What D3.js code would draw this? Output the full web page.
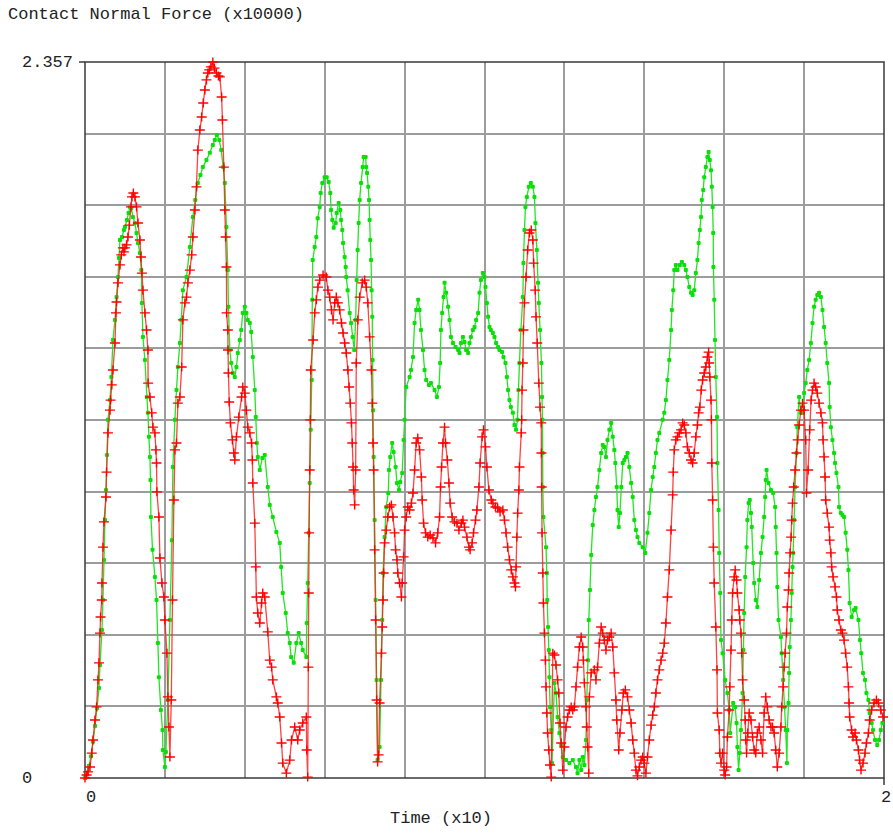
<!DOCTYPE html>
<html>
<head>
<meta charset="utf-8">
<script src="https://cdn.jsdelivr.net/npm/d3@7"></script>
<style>
  body { margin: 0; background: #fff; }
  text { font-family: "Liberation Mono", "DejaVu Sans Mono", monospace; fill: #222; }
</style>
</head>
<body>
<div id="chart"></div>
<script>
// Chart text and axis values
const yTitle = 'Contact Normal Force (x10000)';
const xTitle = 'Time (x10)';
const xDomain = [0, 2];
const yDomain = [0, 2.357];
const xTickLabels = [[0, '0'], [2, '2']];
const yTickLabels = [[0, '0'], [2.357, '2.357']];
const gridSteps = 10;

// [time, force]
const greenPoints = [
  [0,0],[0.005,0.013],[0.010,0.040],[0.015,0.072],[0.020,0.119],[0.025,0.171],[0.030,0.230],[0.035,0.296],[0.0375,0.372],[0.0425,0.487],
  [0.045,0.586],[0.0475,0.718],[0.050,0.849],[0.0525,0.948],[0.055,1.063],[0.0575,1.179],[0.0625,1.244],[0.066,1.320],[0.070,1.442],[0.075,1.508],
  [0.079,1.583],[0.0825,1.649],[0.085,1.712],[0.0875,1.771],[0.0925,1.781],[0.0975,1.804],[0.100,1.814],[0.105,1.837],[0.109,1.860],[0.1125,1.880],
  [0.116,1.876],[0.120,1.847],[0.125,1.827],[0.129,1.794],[0.1325,1.761],[0.1375,1.728],[0.141,1.672],[0.1425,1.564],[0.145,1.452],[0.150,1.376],
  [0.155,1.254],[0.1575,1.202],[0.160,1.123],[0.1625,1.057],[0.164,0.981],[0.165,0.859],[0.169,0.751],[0.175,0.662],[0.179,0.586],[0.1825,0.444],
  [0.185,0.332],[0.190,0.224],[0.194,0.158],[0.195,0.092],[0.200,0.036],[0.2025,0.086],[0.2075,0.257],[0.2125,0.520],[0.2175,0.783],[0.220,1.024],
  [0.225,1.179],[0.229,1.277],[0.2325,1.353],[0.2375,1.432],[0.241,1.508],[0.245,1.606],[0.254,1.649],[0.2625,1.748],[0.270,1.847],[0.276,1.903],
  [0.2825,1.959],[0.289,1.985],[0.295,2.011],[0.304,2.034],[0.3125,2.058],[0.320,2.084],[0.325,2.100],[0.330,2.117],[0.336,2.100],[0.341,2.067],
  [0.346,2.011],[0.350,1.959],[0.354,1.814],[0.3575,1.672],[0.359,1.551],[0.3625,1.409],[0.366,1.366],[0.370,1.333],[0.375,1.320],[0.379,1.353],
  [0.3825,1.399],[0.3875,1.442],[0.391,1.475],[0.395,1.531],[0.400,1.551],[0.404,1.531],[0.4075,1.508],[0.4125,1.498],[0.416,1.468],[0.420,1.386],
  [0.425,1.277],[0.4275,1.188],[0.430,1.103],[0.4325,1.057],[0.4375,1.014],[0.444,1.053],[0.450,1.063],[0.4575,0.958],[0.4625,0.899],[0.470,0.859],
  [0.479,0.810],[0.4875,0.774],[0.491,0.695],[0.495,0.609],[0.5025,0.543],[0.5075,0.477],[0.5125,0.444],[0.516,0.398],[0.5225,0.379],[0.529,0.444],
  [0.535,0.477],[0.541,0.444],[0.545,0.421],[0.554,0.398],[0.555,0.510],[0.5575,0.642],[0.560,0.807],[0.5625,0.971],[0.565,1.146],[0.5675,1.310],
  [0.569,1.574],[0.570,1.705],[0.575,1.748],[0.579,1.781],[0.5825,1.843],[0.5875,1.880],[0.590,1.926],[0.594,1.959],[0.600,1.978],[0.605,1.978],
  [0.610,1.962],[0.614,1.926],[0.616,1.870],[0.619,1.837],[0.6225,1.811],[0.6275,1.827],[0.630,1.860],[0.635,1.893],[0.639,1.870],[0.641,1.837],
  [0.644,1.804],[0.646,1.761],[0.650,1.715],[0.6525,1.682],[0.654,1.649],[0.6575,1.606],[0.6625,1.531],[0.666,1.498],[0.670,1.452],[0.674,1.409],
  [0.6775,1.508],[0.680,1.639],[0.6825,1.738],[0.685,1.827],[0.6875,1.903],[0.691,1.959],[0.695,2.011],[0.6975,2.044],[0.7025,2.044],[0.704,2.011],
  [0.706,1.992],[0.709,1.946],[0.711,1.903],[0.7125,1.837],[0.714,1.771],[0.716,1.705],[0.7175,1.606],[0.719,1.518],[0.720,1.376],[0.721,1.211],
  [0.7225,1.057],[0.725,0.849],[0.7275,0.586],[0.730,0.323],[0.7325,0.059],[0.7375,0.102],[0.741,0.323],[0.744,0.520],[0.746,0.675],[0.750,0.793],
  [0.754,0.892],[0.759,0.938],[0.761,1.014],[0.764,1.057],[0.769,1.103],[0.7725,1.073],[0.7775,1.024],[0.781,0.971],[0.786,0.948],[0.789,0.974],
  [0.794,1.004],[0.7975,1.113],[0.800,1.179],[0.804,1.287],[0.8125,1.320],[0.816,1.343],[0.821,1.386],[0.825,1.498],[0.829,1.541],[0.834,1.574],
  [0.8375,1.541],[0.841,1.475],[0.846,1.409],[0.850,1.343],[0.854,1.310],[0.861,1.294],[0.866,1.300],[0.875,1.277],[0.881,1.254],[0.886,1.287],
  [0.889,1.366],[0.891,1.475],[0.894,1.531],[0.8975,1.583],[0.900,1.630],[0.904,1.597],[0.909,1.551],[0.9125,1.508],[0.916,1.452],[0.921,1.432],
  [0.9275,1.419],[0.934,1.409],[0.9375,1.399],[0.941,1.432],[0.946,1.452],[0.950,1.435],[0.954,1.409],[0.959,1.399],[0.9625,1.432],[0.966,1.452],
  [0.971,1.475],[0.975,1.485],[0.979,1.508],[0.984,1.531],[0.9875,1.597],[0.991,1.639],[0.996,1.662],[1.000,1.649],[1.0025,1.616],[1.006,1.564],
  [1.009,1.518],[1.0125,1.485],[1.016,1.475],[1.021,1.465],[1.025,1.452],[1.029,1.432],[1.034,1.419],[1.0375,1.409],[1.044,1.402],[1.0475,1.386],
  [1.0525,1.366],[1.056,1.320],[1.059,1.277],[1.0625,1.244],[1.066,1.221],[1.071,1.202],[1.075,1.162],[1.079,1.146],[1.0825,1.179],[1.085,1.277],
  [1.0875,1.366],[1.091,1.475],[1.096,1.583],[1.0975,1.695],[1.100,1.804],[1.1025,1.880],[1.106,1.913],[1.111,1.946],[1.116,1.959],[1.121,1.946],
  [1.125,1.913],[1.1275,1.827],[1.131,1.738],[1.134,1.630],[1.136,1.564],[1.139,1.475],[1.1425,1.366],[1.144,1.254],[1.145,1.179],[1.1455,1.070],
  [1.146,0.958],[1.1475,0.859],[1.154,0.760],[1.156,0.675],[1.157,0.586],[1.159,0.497],[1.161,0.421],[1.1625,0.332],[1.164,0.234],[1.167,0.158],
  [1.169,0.049],[1.175,0.313],[1.179,0.280],[1.183,0.201],[1.1875,0.148],[1.192,0.109],[1.196,0.069],[1.204,0.059],[1.2125,0.049],[1.221,0.059],
  [1.229,0.036],[1.233,0.016],[1.2375,0.059],[1.242,0.026],[1.246,0.069],[1.250,0.043],[1.254,0.125],[1.256,0.257],[1.259,0.388],[1.261,0.520],
  [1.264,0.619],[1.267,0.734],[1.271,0.833],[1.275,0.882],[1.279,0.925],[1.283,0.958],[1.2875,1.014],[1.292,1.070],[1.296,1.096],[1.300,1.090],
  [1.304,1.057],[1.308,1.113],[1.3125,1.146],[1.317,1.169],[1.321,1.123],[1.325,1.080],[1.3275,1.037],[1.331,0.958],[1.333,0.882],[1.336,0.826],
  [1.339,0.872],[1.3425,0.958],[1.346,1.037],[1.350,1.047],[1.354,1.057],[1.358,1.070],[1.3625,1.024],[1.367,0.971],[1.371,0.925],[1.375,0.849],
  [1.379,0.816],[1.383,0.793],[1.3875,0.774],[1.396,0.760],[1.4025,0.741],[1.408,0.807],[1.4125,0.872],[1.417,0.948],[1.421,0.991],[1.425,1.024],
  [1.429,1.070],[1.433,1.113],[1.4375,1.136],[1.446,1.179],[1.450,1.202],[1.454,1.244],[1.458,1.310],[1.4625,1.376],[1.467,1.475],[1.469,1.541],
  [1.4725,1.606],[1.475,1.672],[1.479,1.689],[1.483,1.672],[1.489,1.689],[1.494,1.699],[1.500,1.689],[1.504,1.672],[1.508,1.649],[1.5125,1.616],
  [1.517,1.597],[1.521,1.590],[1.525,1.606],[1.529,1.662],[1.533,1.705],[1.536,1.761],[1.539,1.804],[1.542,1.847],[1.544,1.903],[1.5475,1.936],
  [1.550,1.978],[1.554,2.011],[1.558,2.044],[1.561,2.061],[1.564,2.034],[1.567,2.001],[1.569,1.946],[1.571,1.880],[1.5725,1.794],[1.573,1.682],
  [1.575,1.574],[1.577,1.442],[1.579,1.320],[1.582,1.188],[1.583,1.037],[1.586,0.882],[1.5875,0.741],[1.590,0.609],[1.592,0.454],[1.596,0.411],
  [1.6025,0.323],[1.608,0.280],[1.6125,0.224],[1.615,0.148],[1.6225,0.247],[1.6275,0.234],[1.631,0.181],[1.633,0.102],[1.636,0.026],[1.639,0.082],
  [1.642,0.158],[1.646,0.280],[1.648,0.421],[1.650,0.543],[1.6525,0.662],[1.656,0.760],[1.658,0.849],[1.661,0.905],[1.664,0.915],[1.667,0.872],
  [1.669,0.826],[1.6725,0.708],[1.675,0.642],[1.679,0.586],[1.683,0.563],[1.6875,0.652],[1.692,0.741],[1.696,0.793],[1.700,0.859],[1.7025,0.925],
  [1.704,0.981],[1.706,1.014],[1.711,0.971],[1.717,0.948],[1.7225,0.938],[1.7275,0.892],[1.729,0.826],[1.731,0.741],[1.733,0.629],[1.736,0.520],
  [1.742,0.464],[1.744,0.411],[1.7475,0.323],[1.751,0.234],[1.754,0.158],[1.757,0.049],[1.758,0.158],[1.761,0.247],[1.7625,0.346],[1.764,0.431],
  [1.767,0.520],[1.769,0.609],[1.771,0.695],[1.7725,0.741],[1.775,0.849],[1.7775,0.958],[1.781,1.070],[1.783,1.155],[1.7875,1.254],[1.792,1.202],
  [1.796,1.202],[1.800,1.267],[1.804,1.300],[1.808,1.343],[1.8125,1.376],[1.817,1.432],[1.821,1.498],[1.825,1.551],[1.829,1.574],[1.833,1.590],
  [1.8375,1.597],[1.842,1.583],[1.846,1.541],[1.850,1.485],[1.854,1.432],[1.858,1.366],[1.8625,1.300],[1.864,1.221],[1.867,1.155],[1.871,1.113],
  [1.875,1.070],[1.8775,1.037],[1.881,1.004],[1.886,0.958],[1.8875,0.892],[1.892,0.872],[1.896,0.866],[1.900,0.859],[1.904,0.807],[1.908,0.751],
  [1.911,0.685],[1.914,0.576],[1.919,0.530],[1.925,0.553],[1.929,0.560],[1.936,0.520],[1.940,0.454],[1.943,0.411],[1.9475,0.346],[1.9525,0.323],
  [1.956,0.280],[1.961,0.257],[1.964,0.214],[1.969,0.181],[1.9725,0.158],[1.9775,0.125],[1.983,0.109],[1.9875,0.125],[1.992,0.158],[1.996,0.181]
];

const redPoints = [
  [0,0],[0.004,0.010],[0.0075,0.020],[0.0125,0.036],[0.017,0.082],[0.020,0.125],[0.025,0.191],[0.029,0.234],[0.0325,0.323],[0.035,0.379],
  [0.0375,0.477],[0.039,0.530],[0.042,0.586],[0.0425,0.642],[0.045,0.760],[0.0475,0.843],[0.0525,0.925],[0.054,1.007],[0.0575,1.136],[0.0625,1.211],
  [0.064,1.244],[0.067,1.294],[0.070,1.343],[0.075,1.432],[0.0775,1.531],[0.079,1.567],[0.0825,1.630],[0.0875,1.689],[0.091,1.722],[0.095,1.745],
  [0.0975,1.732],[0.100,1.745],[0.104,1.755],[0.1075,1.781],[0.111,1.820],[0.115,1.880],[0.1175,1.913],[0.121,1.926],[0.125,1.913],[0.129,1.880],
  [0.1325,1.827],[0.1375,1.771],[0.140,1.715],[0.1425,1.662],[0.145,1.606],[0.150,1.531],[0.154,1.475],[0.1575,1.409],[0.158,1.300],[0.1625,1.254],
  [0.167,1.202],[0.170,1.155],[0.175,1.136],[0.1775,1.080],[0.179,1.037],[0.180,0.942],[0.185,0.859],[0.1875,0.724],[0.1925,0.642],[0.1975,0.596],
  [0.200,0.520],[0.205,0.411],[0.2075,0.267],[0.210,0.168],[0.2125,0.069],[0.216,0.257],[0.219,0.586],[0.2225,0.915],[0.225,1.080],[0.229,1.103],
  [0.2325,1.234],[0.2375,1.254],[0.242,1.353],[0.245,1.508],[0.250,1.564],[0.254,1.583],[0.2575,1.630],[0.2625,1.672],[0.267,1.722],[0.270,1.781],
  [0.275,1.870],[0.279,1.946],[0.2825,2.067],[0.2875,2.133],[0.292,2.176],[0.296,2.222],[0.300,2.265],[0.304,2.298],[0.3075,2.321],[0.311,2.331],
  [0.315,2.341],[0.320,2.357],[0.324,2.337],[0.329,2.321],[0.334,2.311],[0.3375,2.308],[0.342,2.242],[0.344,2.166],[0.3475,2.011],[0.350,1.870],
  [0.352,1.781],[0.354,1.682],[0.3545,1.531],[0.3575,1.475],[0.358,1.409],[0.359,1.333],[0.361,1.238],[0.364,1.169],[0.369,1.113],[0.3725,1.070],
  [0.375,1.047],[0.379,1.123],[0.385,1.188],[0.392,1.254],[0.395,1.287],[0.400,1.267],[0.404,1.211],[0.4075,1.155],[0.4125,1.136],[0.417,1.103],
  [0.419,1.047],[0.420,0.971],[0.425,0.839],[0.4275,0.695],[0.429,0.596],[0.4325,0.543],[0.4375,0.510],[0.442,0.576],[0.445,0.609],[0.450,0.596],
  [0.4575,0.481],[0.4625,0.388],[0.467,0.365],[0.470,0.323],[0.479,0.267],[0.4825,0.247],[0.4875,0.201],[0.492,0.115],[0.495,0.049],[0.504,0.016],
  [0.5125,0.059],[0.517,0.125],[0.525,0.168],[0.5325,0.125],[0.5375,0.158],[0.545,0.181],[0.554,0.201],[0.555,0.092],[0.5575,0.003],[0.559,0.365],
  [0.560,0.609],[0.561,0.807],[0.5625,1.014],[0.564,1.179],[0.565,1.343],[0.571,1.442],[0.575,1.531],[0.579,1.574],[0.583,1.616],[0.5875,1.639],
  [0.596,1.656],[0.604,1.649],[0.608,1.606],[0.6125,1.583],[0.617,1.541],[0.621,1.508],[0.625,1.564],[0.629,1.583],[0.633,1.564],[0.6375,1.541],
  [0.642,1.498],[0.646,1.465],[0.650,1.432],[0.654,1.399],[0.658,1.343],[0.661,1.287],[0.664,1.234],[0.667,1.169],[0.669,1.103],[0.671,1.024],
  [0.6725,0.948],[0.675,0.899],[0.6775,1.014],[0.679,1.366],[0.683,1.508],[0.6875,1.583],[0.694,1.630],[0.700,1.639],[0.704,1.616],[0.708,1.564],
  [0.7125,1.452],[0.717,1.343],[0.719,1.234],[0.721,1.103],[0.7225,1.014],[0.725,0.751],[0.7275,0.520],[0.730,0.257],[0.7325,0.053],[0.735,0.076],
  [0.7375,0.247],[0.742,0.411],[0.744,0.497],[0.746,0.586],[0.7475,0.675],[0.750,0.774],[0.754,0.816],[0.758,0.859],[0.7625,0.892],[0.767,0.899],
  [0.771,0.859],[0.775,0.807],[0.7775,0.751],[0.781,0.718],[0.783,0.675],[0.7875,0.642],[0.792,0.596],[0.794,0.642],[0.7975,0.728],[0.800,0.816],
  [0.804,0.859],[0.808,0.892],[0.8125,0.882],[0.817,0.905],[0.821,0.938],[0.825,1.014],[0.829,1.103],[0.833,1.119],[0.8375,1.080],[0.842,0.991],
  [0.844,0.915],[0.8475,0.839],[0.8525,0.807],[0.858,0.793],[0.864,0.800],[0.871,0.790],[0.8775,0.774],[0.883,0.807],[0.8875,0.859],[0.890,0.958],
  [0.8925,1.024],[0.896,1.103],[0.900,1.155],[0.9025,1.103],[0.907,1.047],[0.911,0.971],[0.914,0.905],[0.919,0.859],[0.925,0.843],[0.931,0.839],
  [0.936,0.816],[0.942,0.839],[0.946,0.849],[0.950,0.826],[0.956,0.793],[0.961,0.760],[0.964,0.751],[0.969,0.774],[0.9725,0.807],[0.9775,0.849],
  [0.981,0.882],[0.986,0.958],[0.989,1.037],[0.994,1.123],[0.9975,1.146],[1.0025,1.090],[1.006,1.024],[1.011,0.948],[1.017,0.915],[1.021,0.905],
  [1.0275,0.892],[1.033,0.889],[1.039,0.876],[1.046,0.882],[1.050,0.849],[1.054,0.807],[1.058,0.760],[1.0625,0.718],[1.067,0.685],[1.071,0.662],
  [1.075,0.642],[1.0775,0.629],[1.079,0.695],[1.081,0.793],[1.083,0.872],[1.086,0.948],[1.0875,1.024],[1.092,1.136],[1.093,1.179],[1.094,1.277],
  [1.096,1.366],[1.0975,1.475],[1.100,1.564],[1.104,1.649],[1.108,1.738],[1.1125,1.794],[1.117,1.804],[1.121,1.771],[1.123,1.695],[1.127,1.606],
  [1.129,1.518],[1.132,1.432],[1.136,1.300],[1.139,1.221],[1.142,1.169],[1.1425,1.070],[1.143,0.958],[1.144,0.807],[1.146,0.675],[1.1475,0.576],
  [1.150,0.477],[1.1525,0.388],[1.154,0.300],[1.156,0.214],[1.158,0.148],[1.161,0.092],[1.164,0.043],[1.167,0.003],[1.171,0.411],[1.175,0.405],
  [1.179,0.372],[1.183,0.323],[1.186,0.280],[1.189,0.181],[1.192,0.115],[1.196,0.026],[1.200,0.102],[1.204,0.168],[1.208,0.201],[1.2125,0.224],
  [1.217,0.234],[1.221,0.224],[1.225,0.234],[1.229,0.300],[1.233,0.365],[1.2375,0.431],[1.242,0.464],[1.246,0.431],[1.2475,0.388],[1.250,0.313],
  [1.254,0.234],[1.256,0.168],[1.258,0.102],[1.261,0.016],[1.2625,0.267],[1.267,0.346],[1.275,0.356],[1.279,0.323],[1.283,0.365],[1.2875,0.444],
  [1.292,0.497],[1.296,0.477],[1.300,0.454],[1.304,0.421],[1.308,0.454],[1.3125,0.464],[1.317,0.477],[1.321,0.431],[1.325,0.346],[1.329,0.257],
  [1.331,0.191],[1.336,0.092],[1.339,0.148],[1.344,0.224],[1.3475,0.280],[1.3525,0.290],[1.358,0.267],[1.3625,0.224],[1.367,0.181],[1.371,0.125],
  [1.375,0.082],[1.379,0.026],[1.383,0.007],[1.3875,0.036],[1.392,0.059],[1.396,0.069],[1.400,0.049],[1.404,0.016],[1.408,0.069],[1.4125,0.125],
  [1.417,0.174],[1.421,0.207],[1.425,0.234],[1.429,0.280],[1.433,0.323],[1.4375,0.356],[1.442,0.388],[1.446,0.411],[1.450,0.444],[1.454,0.510],
  [1.458,0.596],[1.4625,0.685],[1.467,0.816],[1.471,0.932],[1.4725,1.007],[1.475,1.080],[1.479,1.113],[1.483,1.123],[1.4875,1.136],[1.492,1.146],
  [1.496,1.169],[1.500,1.162],[1.504,1.136],[1.508,1.090],[1.5125,1.070],[1.517,1.047],[1.521,1.037],[1.525,1.070],[1.529,1.123],[1.533,1.162],
  [1.536,1.202],[1.539,1.221],[1.5425,1.277],[1.546,1.310],[1.550,1.333],[1.554,1.353],[1.558,1.386],[1.561,1.402],[1.5625,1.366],[1.564,1.320],
  [1.567,1.244],[1.568,1.179],[1.569,1.037],[1.571,0.915],[1.573,0.760],[1.575,0.642],[1.579,0.497],[1.582,0.356],[1.583,0.214],[1.5875,0.158],
  [1.589,0.082],[1.592,0.049],[1.596,0.082],[1.600,0.026],[1.6025,0.010],[1.606,0.036],[1.608,0.135],[1.6125,0.224],[1.614,0.300],[1.617,0.421],
  [1.619,0.520],[1.621,0.609],[1.625,0.662],[1.6275,0.685],[1.631,0.652],[1.633,0.609],[1.6375,0.553],[1.639,0.520],[1.642,0.477],[1.644,0.411],
  [1.646,0.323],[1.650,0.257],[1.6525,0.191],[1.654,0.125],[1.656,0.082],[1.659,0.148],[1.6625,0.214],[1.667,0.191],[1.671,0.135],[1.675,0.092],
  [1.679,0.082],[1.683,0.148],[1.6875,0.168],[1.692,0.125],[1.696,0.082],[1.700,0.214],[1.704,0.267],[1.708,0.234],[1.7125,0.191],[1.717,0.168],
  [1.721,0.168],[1.725,0.148],[1.729,0.092],[1.733,0.036],[1.7375,0.082],[1.742,0.168],[1.744,0.234],[1.7475,0.300],[1.750,0.365],[1.7525,0.411],
  [1.756,0.477],[1.758,0.563],[1.761,0.619],[1.7625,0.675],[1.765,0.741],[1.7675,0.793],[1.769,0.849],[1.771,0.905],[1.774,0.958],[1.7775,1.014],
  [1.781,1.070],[1.784,1.113],[1.7875,1.162],[1.792,1.211],[1.796,1.234],[1.800,1.211],[1.804,1.113],[1.806,0.938],[1.810,1.014],[1.814,1.146],
  [1.8175,1.244],[1.821,1.277],[1.825,1.300],[1.829,1.287],[1.833,1.267],[1.8375,1.234],[1.842,1.202],[1.846,1.169],[1.8475,1.113],[1.850,1.057],
  [1.8525,0.991],[1.854,0.915],[1.858,0.872],[1.8625,0.826],[1.864,0.783],[1.867,0.741],[1.869,0.695],[1.8725,0.662],[1.8775,0.629],[1.881,0.596],
  [1.883,0.553],[1.8875,0.520],[1.892,0.487],[1.896,0.477],[1.900,0.454],[1.904,0.411],[1.908,0.365],[1.911,0.300],[1.9125,0.247],[1.914,0.201],
  [1.919,0.158],[1.9225,0.135],[1.9275,0.148],[1.931,0.125],[1.936,0.092],[1.939,0.059],[1.9425,0.026],[1.9475,0.049],[1.9525,0.082],[1.956,0.115],
  [1.961,0.148],[1.964,0.191],[1.969,0.224],[1.975,0.247],[1.981,0.257],[1.986,0.247],[1.992,0.224],[1.9975,0.201]
];

function drawChart() {
    const width = 893, height = 834;
    const plot = { left: 85, right: 884, top: 62, bottom: 778 };

    const svg = d3.select('#chart')
        .append('svg')
        .attr('width', width)
        .attr('height', height)
        .style('display', 'block');

    svg.append('rect').attr('width', width).attr('height', height).attr('fill', '#fff');

    const x = d3.scaleLinear().domain(xDomain).range([plot.left, plot.right]);
    const y = d3.scaleLinear().domain(yDomain).range([plot.bottom, plot.top]);

    // grid
    const xGrid = d3.range(1, gridSteps).map(i => xDomain[1] * i / gridSteps);
    const yGrid = d3.range(1, gridSteps).map(i => yDomain[1] * i / gridSteps);

    svg.append('g')
        .selectAll('line')
        .data(xGrid)
        .join('line')
        .attr('x1', d => Math.round(x(d))).attr('x2', d => Math.round(x(d)))
        .attr('y1', plot.top).attr('y2', plot.bottom)
        .attr('stroke', '#9c9c9c').attr('stroke-width', 2)
        .attr('shape-rendering', 'crispEdges');

    svg.append('g')
        .selectAll('line')
        .data(yGrid)
        .join('line')
        .attr('y1', d => Math.round(y(d))).attr('y2', d => Math.round(y(d)))
        .attr('x1', plot.left).attr('x2', plot.right)
        .attr('stroke', '#9c9c9c').attr('stroke-width', 2)
        .attr('shape-rendering', 'crispEdges');

    // frame
    svg.append('rect')
        .attr('x', plot.left).attr('y', plot.top)
        .attr('width', plot.right - plot.left).attr('height', plot.bottom - plot.top)
        .attr('fill', 'none').attr('stroke', '#3a3a3a').attr('stroke-width', 1.5);

    // end ticks
    svg.append('line')
        .attr('x1', plot.left - 6).attr('x2', plot.left)
        .attr('y1', y(yDomain[1])).attr('y2', y(yDomain[1]))
        .attr('stroke', '#3a3a3a').attr('stroke-width', 1.5);
    svg.append('line')
        .attr('x1', x(xDomain[1])).attr('x2', x(xDomain[1]))
        .attr('y1', plot.bottom).attr('y2', plot.bottom + 7)
        .attr('stroke', '#3a3a3a').attr('stroke-width', 1.5);

    // tick labels
    svg.append('g')
        .selectAll('text')
        .data(yTickLabels)
        .join('text')
        .attr('x', 22)
        .attr('y', d => y(d[0]) + 5)
        .attr('font-size', 17)
        .text(d => d[1]);

    // the last x label sits at the right edge, keep it inside the page
    svg.append('g')
        .selectAll('text')
        .data(xTickLabels)
        .join('text')
        .attr('x', d => Math.min(x(d[0]) + 1, width - 12))
        .attr('y', plot.bottom + 24)
        .attr('font-size', 17)
        .text(d => d[1]);

    svg.append('text')
        .attr('x', 8).attr('y', 19)
        .attr('font-size', 17)
        .text(yTitle);

    svg.append('text')
        .attr('x', 441).attr('y', 823)
        .attr('text-anchor', 'middle')
        .attr('font-size', 17)
        .text(xTitle);

    const line = d3.line().x(d => x(d[0])).y(d => y(d[1]));

    // green series: line + square dots
    svg.append('path')
        .datum(greenPoints)
        .attr('d', line)
        .attr('fill', 'none')
        .attr('stroke', '#22e622')
        .attr('stroke-width', 1.3);

    svg.append('g')
        .selectAll('rect')
        .data(greenPoints)
        .join('rect')
        .attr('x', d => x(d[0]) - 2)
        .attr('y', d => y(d[1]) - 2)
        .attr('width', 4).attr('height', 4)
        .attr('rx', 1)
        .attr('fill', '#0adf0a');

    // red series: line + plus markers
    svg.append('path')
        .datum(redPoints)
        .attr('d', line)
        .attr('fill', 'none')
        .attr('stroke', '#ff2020')
        .attr('stroke-opacity', 0.85)
        .attr('stroke-width', 1.3);

    svg.append('g')
        .selectAll('path')
        .data(redPoints)
        .join('path')
        .attr('transform', d => `translate(${x(d[0])},${y(d[1])})`)
        .attr('d', 'M-5,0H5M0,-4.5V4.5')
        .attr('stroke', '#ff0000')
        .attr('stroke-width', 1.4)
        .attr('fill', 'none');
}

document.addEventListener('DOMContentLoaded', drawChart);
</script>
</body>
</html>
